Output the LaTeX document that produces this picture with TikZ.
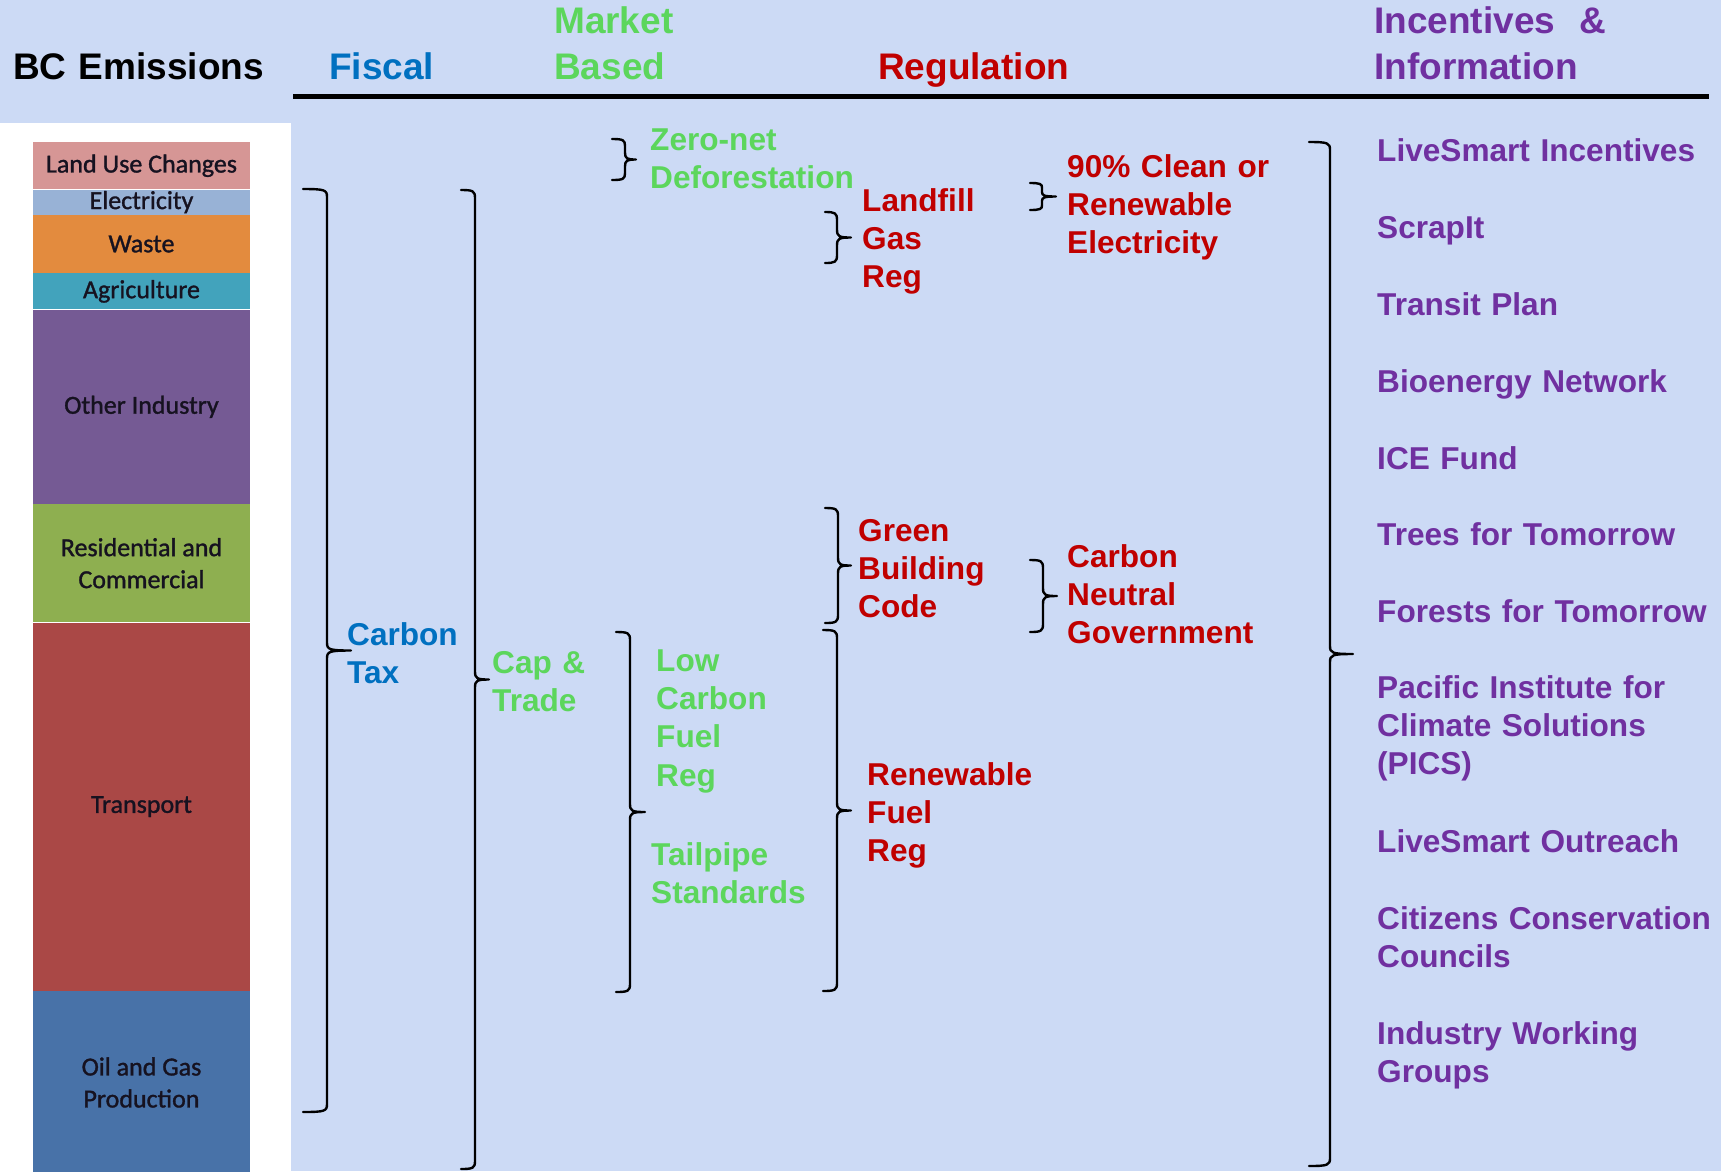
\documentclass[tikz,border=0pt]{standalone}
\usepackage{fontspec}
\setmainfont{Liberation Sans}
\newfontfamily\barfont[FakeBold=1.2]{Carlito}
\usepackage{tikz}
\usetikzlibrary{positioning}

\definecolor{bgblue}{RGB}{204,218,245}
\definecolor{fiscalblue}{RGB}{0,112,192}
\definecolor{marketgreen}{RGB}{92,214,92}
\definecolor{regred}{RGB}{192,0,0}
\definecolor{infopurple}{RGB}{112,48,160}
\definecolor{bartext}{RGB}{22,18,32}
\definecolor{landc}{RGB}{214,150,149}
\definecolor{elecc}{RGB}{152,178,214}
\definecolor{wastec}{RGB}{227,139,62}
\definecolor{agric}{RGB}{66,163,188}
\definecolor{otherc}{RGB}{117,90,148}
\definecolor{residc}{RGB}{142,175,80}
\definecolor{transc}{RGB}{170,72,70}
\definecolor{oilc}{RGB}{72,114,168}

% right brace: x of line, top, bottom, hook length, tip length
\newcommand{\rightbrk}[5]{%
  \pgfmathsetmacro{\brkmid}{(#2+#3)/2}%
  \pgfmathsetmacro{\brkrad}{min(8,(#3-#2)/6)}%
  \draw[brk] ({#1-#4},#2) .. controls ({#1-2},#2) and (#1,{#2+1}) .. (#1,{#2+\brkrad})
    -- (#1,{\brkmid-\brkrad}) .. controls (#1,{\brkmid-1}) and ({#1+2},\brkmid) .. ({#1+#5},\brkmid)
    .. controls ({#1+2},\brkmid) and (#1,{\brkmid+1}) .. (#1,{\brkmid+\brkrad})
    -- (#1,{#3-\brkrad}) .. controls (#1,{#3-1}) and ({#1-2},#3) .. ({#1-#4},#3);}

\begin{document}
\begin{tikzpicture}[x=1pt, y=-1pt,
    hd/.style={anchor=base west, inner sep=0pt, align=left, text width=360pt,
      font=\fontsize{37}{46}\selectfont\bfseries},
    tx/.style={anchor=base west, inner sep=0pt, align=left, text width=360pt,
      font=\fontsize{31.6}{38.4}\selectfont\bfseries},
    seg/.style={inner sep=0pt, minimum width=217pt, align=center, text=bartext,
      font=\barfont\fontsize{26}{32}\selectfont},
    brk/.style={line width=2.4pt, line join=round, line cap=round}]

        % Background
        \fill[bgblue] (0,0) rectangle (1721,1171);
        \useasboundingbox (0,0) rectangle (1721,1171);
        \fill[white] (0,123) rectangle (291,1171);

        % Emissions bar
        \node[seg, fill=landc, minimum height=47pt, anchor=north] (landuse) at (141.5,142) {Land Use Changes};
        \node[seg, fill=elecc, minimum height=25pt, below=0pt of landuse] (elec) {Electricity};
        \node[seg, fill=wastec, minimum height=58pt, below=0pt of elec] (waste) {Waste};
        \node[seg, fill=agric, minimum height=36pt, below=0pt of waste] (agri) {Agriculture};
        \node[seg, fill=otherc, minimum height=194pt, below=0pt of agri] (other) {Other Industry};
        \node[seg, fill=residc, minimum height=118pt, below=0pt of other] (resid) {Residential and\\Commercial};
        \node[seg, fill=transc, minimum height=368pt, below=0pt of resid] (transport) {Transport};
        \node[seg, fill=oilc, minimum height=183pt, below=0pt of transport] (oilgas) {Oil and Gas\\Production};

        % Headings
        \node[hd] (bc) at (13,79) {BC Emissions};
        \node[hd, text=fiscalblue] (fiscal) at (329,79) {Fiscal};
        \node[hd, text=marketgreen] (market) at (554,33) {Market\\Based};
        \node[hd, text=regred] (regulation) at (878,79) {Regulation};
        \node[hd, text=infopurple] (incentives) at (1374,33) {Incentives \ \&\\Information};
        \draw[line width=5pt] (293,96) -- (1709,96);

        % Fiscal and market based
        \node[tx, text=fiscalblue] (carbontax) at (347,645) {Carbon\\Tax};
        \node[tx, text=marketgreen] (captrade) at (492,673) {Cap \&\\Trade};
        \node[tx, text=marketgreen] (zeronet) at (650,150) {Zero-net\\Deforestation};
        \node[tx, text=marketgreen] (lcfr) at (656,671) {Low\\Carbon\\Fuel\\Reg};
        \node[tx, text=marketgreen] (tailpipe) at (651,865) {Tailpipe\\Standards};

        % Regulation
        \node[tx, text=regred] (landfill) at (862,211) {Landfill\\Gas\\Reg};
        \node[tx, text=regred] (cleanelec) at (1067,177) {90\% Clean or\\Renewable\\Electricity};
        \node[tx, text=regred] (greenbuild) at (858,541) {Green\\Building\\Code};
        \node[tx, text=regred] (neutral) at (1067,567) {Carbon\\Neutral\\Government};
        \node[tx, text=regred] (renewfuel) at (867,785) {Renewable\\Fuel\\Reg};

        % Incentives and information
        \node[tx, text=infopurple] (livesmart) at (1377,161) {LiveSmart Incentives};
        \node[tx, text=infopurple] (scrapit) at (1377,238) {ScrapIt};
        \node[tx, text=infopurple] (transit) at (1377,315) {Transit Plan};
        \node[tx, text=infopurple] (bioenergy) at (1377,392) {Bioenergy Network};
        \node[tx, text=infopurple] (icefund) at (1377,469) {ICE Fund};
        \node[tx, text=infopurple] (trees) at (1377,545) {Trees for Tomorrow};
        \node[tx, text=infopurple] (forests) at (1377,622) {Forests for Tomorrow};
        \node[tx, text=infopurple] (pics) at (1377,698) {Pacific Institute for\\Climate Solutions\\(PICS)};
        \node[tx, text=infopurple] (outreach) at (1377,852) {LiveSmart Outreach};
        \node[tx, text=infopurple] (councils) at (1377,929) {Citizens Conservation\\Councils};
        \node[tx, text=infopurple] (industry) at (1377,1044) {Industry Working\\Groups};

        % Braces
        \rightbrk{327}{189}{1112}{24}{24}
        \rightbrk{475}{190}{1169}{14}{14}
        \rightbrk{625}{139}{180}{13}{11}
        \rightbrk{837}{212}{263}{12}{14}
        \rightbrk{1042}{183}{210}{12}{14}
        \rightbrk{838}{508}{623}{13}{13}
        \rightbrk{1043}{560}{632}{13}{14}
        \rightbrk{630}{632}{992}{14}{15}
        \rightbrk{837}{630}{991}{14}{14}
        \rightbrk{1330}{142}{1166}{21}{23}
    \end{tikzpicture}
\end{document}
